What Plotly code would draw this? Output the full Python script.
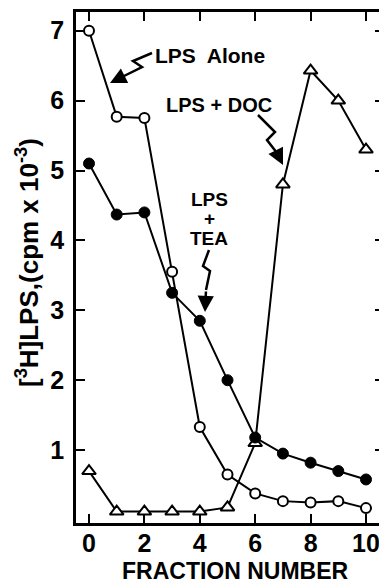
import plotly.graph_objects as go

fractions = [0, 1, 2, 3, 4, 5, 6, 7, 8, 9, 10]
lps_alone = [7.0, 5.77, 5.75, 3.55, 1.33, 0.65, 0.38, 0.27, 0.25, 0.27, 0.17]
lps_tea = [5.1, 4.37, 4.4, 3.25, 2.85, 2.0, 1.18, 0.95, 0.82, 0.7, 0.58]
lps_doc = [0.7, 0.12, 0.12, 0.12, 0.12, 0.18, 1.1, 4.8, 6.43, 6.0, 5.3]
x_ticks = [0, 2, 4, 6, 8, 10]
y_ticks = [1, 2, 3, 4, 5, 6, 7]
x_ticktext = [f"<b>{v}</b>" for v in x_ticks]
y_ticktext = [f"<b>{v}</b>" for v in y_ticks]

# page body has a default 8px margin; work in window pixels and shift
OFF = 8
W, H = 387 - OFF, 584 - OFF
L, R, T, B = 76 - OFF, 384 - OFF, 12 - OFF, 523 - OFF
X0PX, XPU = 89.0 - OFF, 27.7
Y0PX, YPU = 520.0 - OFF, 69.9

def wx(px):
    return px - OFF

def wy(py):
    return py - OFF

def dx(px):
    return (wx(px) - X0PX) / XPU

def dy(py):
    return (Y0PX - wy(py)) / YPU

def paper_x(px):
    return (wx(px) - L) / (R - L)

def paper_y(py):
    return (B - wy(py)) / (B - T)

FONT = "Liberation Sans"
fig = go.Figure()

fig.add_trace(go.Scatter(x=fractions, y=lps_doc, mode="lines+markers",
                         line=dict(color="black", width=2),
                         marker=dict(symbol="triangle-up", size=12, color="white",
                                     line=dict(color="black", width=2)),
                         showlegend=False))
fig.add_trace(go.Scatter(x=fractions, y=lps_tea, mode="lines+markers",
                         line=dict(color="black", width=2),
                         marker=dict(symbol="circle", size=11, color="black",
                                     line=dict(color="black", width=1)),
                         showlegend=False))
fig.add_trace(go.Scatter(x=fractions, y=lps_alone, mode="lines+markers",
                         line=dict(color="black", width=2),
                         marker=dict(symbol="circle", size=10, color="white",
                                     line=dict(color="black", width=2)),
                         showlegend=False))

def squiggle(pts):
    d = "M " + " L ".join(f"{dx(a):.4f},{dy(b):.4f}" for a, b in pts)
    fig.add_shape(type="path", path=d, xref="x", yref="y",
                  line=dict(color="black", width=2.5))

def arrow(start, end):
    fig.add_annotation(x=dx(end[0]), y=dy(end[1]), xref="x", yref="y",
                       ax=start[0] - end[0], ay=start[1] - end[1],
                       axref="pixel", ayref="pixel", text="", showarrow=True,
                       arrowhead=2, arrowsize=1.3, arrowwidth=2.5, arrowcolor="black")

# LPS Alone squiggle
squiggle([(152, 53), (133, 61), (142, 67), (122, 77)])
arrow((122, 77), (110, 83))
# LPS + DOC squiggle
squiggle([(258, 115), (275, 132), (267, 140), (277, 153)])
arrow((277, 153), (283, 165))
# LPS + TEA squiggle
squiggle([(209, 250), (203, 266), (210, 271), (206, 290)])
arrow((206, 290), (205, 312))

def label(text, px, py, size=21, angle=0):
    fig.add_annotation(x=paper_x(px), y=paper_y(py), xref="paper", yref="paper", text=text,
                       xanchor="center", yanchor="middle", textangle=angle,
                       showarrow=False, font=dict(family=FONT, size=size, color="black"))

label("<b>LPS  Alone</b>", 210, 55, 21)
label("<b>LPS + DOC</b>", 219, 105, 20)
label("<b>LPS</b>", 209, 199, 19)
label("<b>+</b>", 209, 218, 19)
label("<b>TEA</b>", 209, 238, 19)

# axis titles
label("<b>FRACTION NUMBER</b>", 236, 571, 23)
label("<b>[<sup>3</sup>H]LPS,(cpm x 10<sup>-3</sup>)</b>", 27, 263, 26, -90)

fig.update_layout(
    width=W, height=H,
    margin=dict(l=L, r=W - R, t=T, b=H - B, pad=0, autoexpand=False),
    plot_bgcolor="white", paper_bgcolor="white",
    font=dict(family=FONT, size=24, color="black"),
)
fig.update_xaxes(range=[dx(76), dx(384)], tickvals=x_ticks, ticktext=x_ticktext,
                 ticks="inside", ticklen=9,
                 tickwidth=2, tickcolor="black", showline=True, linewidth=2.5,
                 linecolor="black", mirror="ticks", showgrid=False, zeroline=False,
                 automargin=False, ticklabelstandoff=-4,
                 tickfont=dict(family=FONT, size=25))
fig.update_yaxes(range=[dy(523), dy(12)], tickvals=y_ticks, ticktext=y_ticktext,
                 ticks="inside", ticklen=9,
                 tickwidth=2, tickcolor="black", showline=True, linewidth=2.5,
                 linecolor="black", mirror="ticks", showgrid=False, zeroline=False,
                 automargin=False, ticklabelstandoff=4,
                 tickfont=dict(family=FONT, size=25))

fig.write_html("out.html")
